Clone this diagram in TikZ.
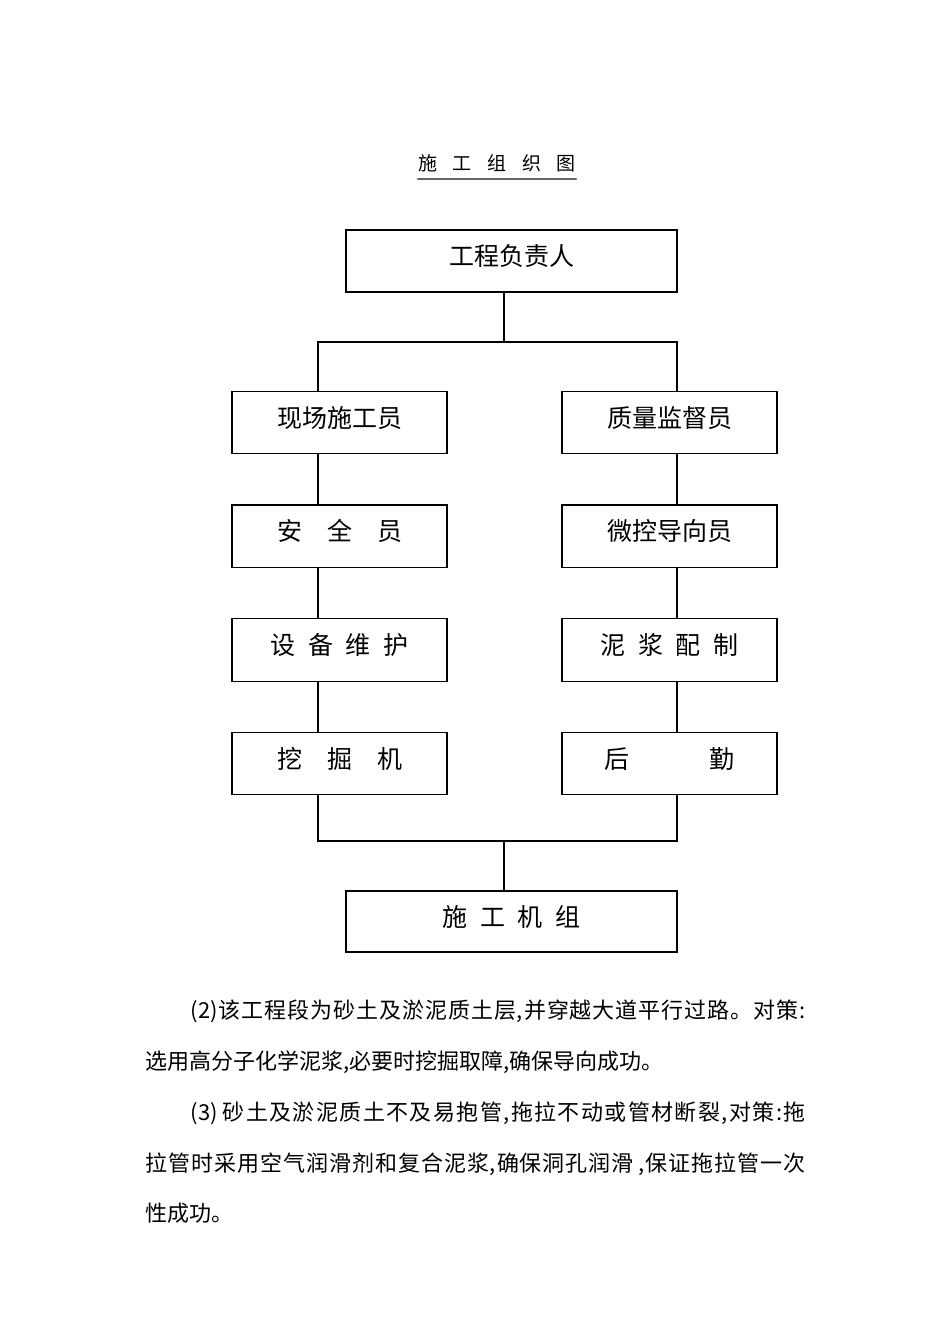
\documentclass[tikz,border=0pt]{standalone}
\usepackage{fontspec}
\setmainfont{Noto Sans CJK SC}
\usetikzlibrary{positioning}
% stretchable glue between CJK characters, for the justified lines
\newcount\cjkcode
\cjkcode="4E00
\loop \XeTeXcharclass\cjkcode=1 \advance\cjkcode by 1 \ifnum\cjkcode<"A000 \repeat
\XeTeXcharclass"3002=3
\XeTeXinterchartokenstate=1
\XeTeXinterchartoks 1 1={\hskip0pt plus 1fil}
\XeTeXinterchartoks 1 0={\hskip0pt plus 1fil}
\XeTeXinterchartoks 0 1={\hskip0pt plus 1fil}
\XeTeXinterchartoks 1 3={\hskip0pt plus 1fil}
\XeTeXinterchartoks 3 1={\hskip0pt plus 1fil}
\XeTeXinterchartoks 0 3={\hskip0pt plus 1fil}
\newcommand\hs{\hspace{.5em}} %half-width gap between characters
\tikzstyle{every path}=[line width=1.2pt,line cap=round]
\tikzstyle{orgbox}=[draw,rectangle,minimum width=215pt,minimum height=62.5pt,inner sep=0pt,text height=18pt,text depth=9pt,font=\fontsize{25}{25}\selectfont]
\tikzstyle{widebox}=[orgbox,minimum width=331pt,minimum height=62pt]
\tikzstyle{bodyline}=[anchor=base west,inner sep=0pt,font=\fontsize{22}{22}\selectfont]

\begin{document}
\begin{tikzpicture}[x=1pt,y=-1pt]
	\useasboundingbox (0,0) rectangle (950,1344);
% Title
	\node[anchor=base,inner sep=0pt,font=\fontsize{19}{19}\selectfont] (title) at (497,170) {施\hspace{.82em}工\hspace{.82em}组\hspace{.82em}织\hspace{.82em}图};
	\draw[line width=1.8pt,black!60] ([yshift=-9pt]title.base west) -- ([yshift=-9pt]title.base east);
% Chart
	\newcommand\gap{50pt} %gap between boxes of one column
	\node[widebox] (lead) at (511.5,261) {工程负责人};
	\node[orgbox] (site) at (339.5,422.5) {现场施工员};
	\node[orgbox,below=\gap of site] (safety) {安　全　员};
	\node[orgbox,below=\gap of safety] (equip) {设\hs 备\hs 维\hs 护};
	\node[orgbox,below=\gap of equip] (digger) {挖　掘　机};
	\node[orgbox] (quality) at (669.5,422.5) {质量监督员};
	\node[orgbox,below=\gap of quality] (guide) {微控导向员};
	\node[orgbox,below=\gap of guide] (mud) {泥\hs 浆\hs 配\hs 制};
	\node[orgbox,below=\gap of mud] (logis) {后\hspace{3.2em}勤};
	\node[widebox,minimum height=61pt] (crew) at (511.5,921.5) {施\hs 工\hs 机\hs 组};
	\coordinate (splitT) at (504,342); %% splitT is where the top line meets the bar
	\coordinate (colL) at (318,342); %% colL is the top of the left column line
	\coordinate (colR) at (677,342); %% colR is the top of the right column line
	\coordinate (joinL) at (318,841);
	\coordinate (joinR) at (677,841);
	\coordinate (joinB) at (504,841); %% joinB is where the bottom bar meets crew
	\draw (splitT |- lead.south) -- (splitT);
	\draw (colL |- site.north) -- (colL) -- (colR) -- (colR |- quality.north);
	\foreach \a/\b in {site/safety,safety/equip,equip/digger}
		\draw (colL |- \a.south) -- (colL |- \b.north);
	\foreach \a/\b in {quality/guide,guide/mud,mud/logis}
		\draw (colR |- \a.south) -- (colR |- \b.north);
	\draw (colL |- digger.south) -- (joinL) -- (joinR) -- (colR |- logis.south);
	\draw (joinB) -- (joinB |- crew.north);
% Text below
	\node[bodyline] (p2a) at (190,1018) {\makebox[615pt][s]{(2)该工程段为砂土及淤泥质土层,并穿越大道平行过路。对策:}};
	\node[bodyline] (p2b) at (145,1069) {选用高分子化学泥浆,必要时挖掘取障,确保导向成功。};
	\node[bodyline] (p3a) at (190,1120) {\makebox[615pt][s]{(3) 砂土及淤泥质土不及易抱管,拖拉不动或管材断裂,对策:拖}};
	\node[bodyline] (p3b) at (145,1171) {\makebox[660pt][s]{拉管时采用空气润滑剂和复合泥浆,确保洞孔润滑 ,保证拖拉管一次}};
	\node[bodyline] (p3c) at (145,1221) {性成功。};
\end{tikzpicture}
\end{document}
